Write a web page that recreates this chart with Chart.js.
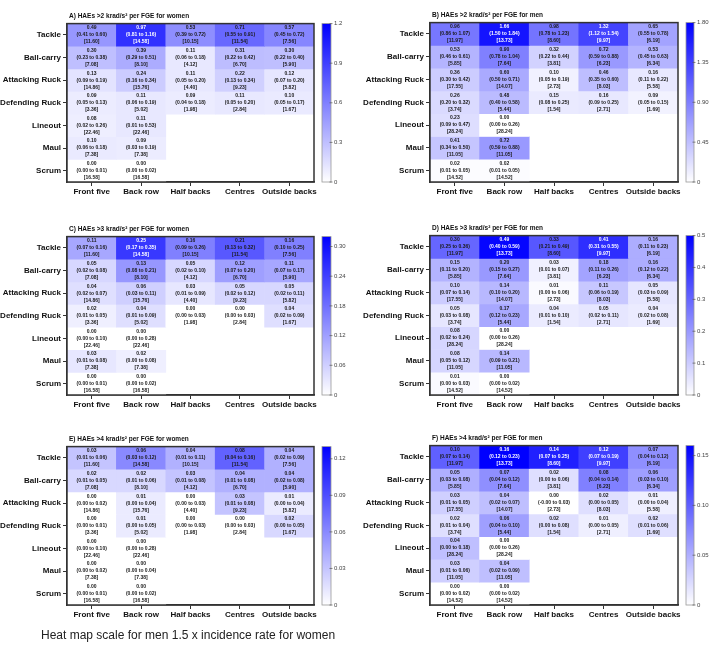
<!DOCTYPE html>
<html>
<head>
<meta charset="utf-8">
<script src="https://cdn.jsdelivr.net/npm/chart.js@4/dist/chart.umd.min.js"></script>
<style>
  body { margin: 0; background: #fff; width: 709px; height: 652px; position: relative; overflow: hidden; }
  .panel { position: absolute; }
  #caption { position: absolute; left: 41px; top: 628px; font: 12px "Liberation Sans", Arial, sans-serif; color: #222; white-space: nowrap; }
</style>
</head>
<body>
<div class="panel" style="left:0;top:0"><canvas id="pA" width="354" height="210"></canvas></div>
<div class="panel" style="left:354px;top:0"><canvas id="pB" width="355" height="210"></canvas></div>
<div class="panel" style="left:0;top:213px"><canvas id="pC" width="354" height="210"></canvas></div>
<div class="panel" style="left:354px;top:213px"><canvas id="pD" width="355" height="210"></canvas></div>
<div class="panel" style="left:0;top:423px"><canvas id="pE" width="354" height="210"></canvas></div>
<div class="panel" style="left:354px;top:423px"><canvas id="pF" width="355" height="210"></canvas></div>
<div id="caption">Heat map scale for men 1.5 x incidence rate for women</div>
<script>
//---------------------------------------------------------------------------
// categories
const rows = ['Tackle', 'Ball-carry', 'Attacking Ruck', 'Defending Ruck', 'Lineout', 'Maul', 'Scrum'];
const positions = ['Front five', 'Back row', 'Half backs', 'Centres', 'Outside backs'];

// FGE exposure, shared by the women panels and by the men panels
const womenFge = [[11.60, 14.58, 10.15, 11.54, 7.56], [7.08, 8.10, 4.12, 6.70, 5.90], [14.86, 15.76, 4.40, 9.23, 5.82],
  [3.36, 5.02, 1.98, 2.84, 1.67], [22.46, 22.46, null, null, null], [7.38, 7.38, null, null, null], [16.58, 16.58, null, null, null]];
const menFge = [[11.97, 13.73, 8.60, 9.97, 6.19], [5.85, 7.64, 3.81, 6.23, 6.34], [17.55, 14.07, 2.73, 8.03, 5.58],
  [3.74, 5.44, 1.54, 2.71, 1.69], [28.24, 28.24, null, null, null], [11.05, 11.05, null, null, null], [14.52, 14.52, null, null, null]];

// A) >2 krad/s2 women
const aRate = [[0.49, 0.97, 0.53, 0.71, 0.57], [0.30, 0.39, 0.11, 0.31, 0.30], [0.13, 0.24, 0.11, 0.22, 0.12], [0.09, 0.11, 0.09, 0.11, 0.10], [0.08, 0.11, null, null, null], [0.10, 0.09, null, null, null], [0.00, 0.00, null, null, null]];
const aLow = [[0.41, 0.81, 0.39, 0.55, 0.45], [0.23, 0.29, 0.06, 0.22, 0.22], [0.09, 0.16, 0.05, 0.13, 0.07], [0.05, 0.06, 0.04, 0.05, 0.05], [0.02, 0.01], [0.06, 0.03], [0.00, 0.00]];
const aHigh = [[0.60, 1.16, 0.72, 0.91, 0.72], [0.38, 0.51, 0.18, 0.42, 0.40], [0.19, 0.34, 0.20, 0.34, 0.20], [0.13, 0.19, 0.18, 0.20, 0.17], [0.26, 0.53], [0.18, 0.19], [0.01, 0.02]];
// B) >2 krad/s2 men
const bRate = [[0.96, 1.66, 0.98, 1.32, 0.65], [0.53, 0.90, 0.32, 0.72, 0.53], [0.36, 0.60, 0.10, 0.46, 0.16], [0.26, 0.48, 0.15, 0.16, 0.09], [0.23, 0.00, null, null, null], [0.41, 0.72, null, null, null], [0.02, 0.02, null, null, null]];
const bLow = [[0.86, 1.50, 0.78, 1.12, 0.55], [0.46, 0.78, 0.22, 0.59, 0.45], [0.30, 0.50, 0.05, 0.35, 0.11], [0.20, 0.40, 0.08, 0.09, 0.05], [0.09, 0.00], [0.34, 0.59], [0.01, 0.01]];
const bHigh = [[1.07, 1.84, 1.23, 1.54, 0.78], [0.61, 1.04, 0.44, 0.88, 0.63], [0.42, 0.71, 0.19, 0.60, 0.22], [0.32, 0.58, 0.25, 0.25, 0.15], [0.47, 0.26], [0.50, 0.88], [0.05, 0.05]];
// C) >3 krad/s2 women
const cRate = [[0.11, 0.25, 0.16, 0.21, 0.16], [0.05, 0.13, 0.05, 0.12, 0.11], [0.04, 0.06, 0.03, 0.05, 0.05], [0.02, 0.04, 0.00, 0.00, 0.04], [0.00, 0.00, null, null, null], [0.03, 0.02, null, null, null], [0.00, 0.00, null, null, null]];
const cLow = [[0.07, 0.17, 0.09, 0.13, 0.10], [0.02, 0.08, 0.02, 0.07, 0.07], [0.02, 0.03, 0.01, 0.02, 0.02], [0.01, 0.01, 0.00, 0.00, 0.02], [0.00, 0.00], [0.01, 0.00], [0.00, 0.00]];
const cHigh = [[0.16, 0.35, 0.26, 0.32, 0.25], [0.08, 0.21, 0.10, 0.20, 0.17], [0.07, 0.11, 0.09, 0.12, 0.11], [0.05, 0.09, 0.03, 0.03, 0.09], [0.10, 0.28], [0.08, 0.08], [0.01, 0.02]];
// D) >3 krad/s2 men
const dRate = [[0.30, 0.49, 0.33, 0.41, 0.16], [0.15, 0.20, 0.03, 0.18, 0.16], [0.10, 0.14, 0.01, 0.11, 0.05], [0.05, 0.17, 0.04, 0.05, 0.04], [0.08, 0.00, null, null, null], [0.08, 0.14, null, null, null], [0.01, 0.00, null, null, null]];
const dLow = [[0.25, 0.40, 0.21, 0.31, 0.11], [0.11, 0.15, 0.01, 0.11, 0.12], [0.07, 0.10, 0.00, 0.06, 0.03], [0.03, 0.12, 0.01, 0.02, 0.02], [0.02, 0.00], [0.05, 0.09], [0.00, 0.00]];
const dHigh = [[0.36, 0.59, 0.49, 0.55, 0.23], [0.20, 0.27, 0.07, 0.26, 0.22], [0.14, 0.20, 0.06, 0.19, 0.09], [0.08, 0.23, 0.10, 0.11, 0.08], [0.24, 0.26], [0.12, 0.21], [0.03, 0.02]];
// E) >4 krad/s2 women
const eRate = [[0.03, 0.06, 0.04, 0.08, 0.04], [0.02, 0.02, 0.03, 0.04, 0.04], [0.00, 0.01, 0.00, 0.03, 0.01], [0.00, 0.01, 0.00, 0.00, 0.02], [0.00, 0.00, null, null, null], [0.00, 0.00, null, null, null], [0.00, 0.00, null, null, null]];
const eLow = [[0.01, 0.03, 0.01, 0.04, 0.02], [0.01, 0.01, 0.01, 0.01, 0.02], [0.00, 0.00, 0.00, 0.01, 0.00], [0.00, 0.00, 0.00, 0.00, 0.00], [0.00, 0.00], [0.00, 0.00], [0.00, 0.00]];
const eHigh = [[0.06, 0.12, 0.11, 0.16, 0.09], [0.05, 0.06, 0.08, 0.08, 0.08], [0.02, 0.04, 0.03, 0.08, 0.04], [0.01, 0.05, 0.03, 0.03, 0.05], [0.10, 0.28], [0.02, 0.04], [0.01, 0.02]];
// F) >4 krad/s2 men
const fRate = [[0.10, 0.16, 0.14, 0.12, 0.07], [0.05, 0.07, 0.02, 0.08, 0.06], [0.03, 0.04, 0.00, 0.02, 0.01], [0.02, 0.06, 0.02, 0.01, 0.02], [0.04, 0.00, null, null, null], [0.03, 0.04, null, null, null], [0.00, 0.00, null, null, null]];
const fLow = [[0.07, 0.12, 0.07, 0.07, 0.04], [0.03, 0.04, 0.00, 0.04, 0.03], [0.01, 0.02, -0.001, 0.00, 0.00], [0.01, 0.04, 0.00, 0.00, 0.01], [0.00, 0.00], [0.01, 0.02], [0.00, 0.00]];
const fHigh = [[0.14, 0.23, 0.25, 0.19, 0.12], [0.08, 0.12, 0.06, 0.14, 0.10], [0.05, 0.07, 0.03, 0.05, 0.04], [0.04, 0.10, 0.08, 0.05, 0.06], [0.18, 0.26], [0.06, 0.09], [0.02, 0.02]];

// colour bar scales
const aMax = 1.2, aTicks = [0, 0.3, 0.6, 0.9, 1.2], aTickLabels = ['0', '0.3', '0.6', '0.9', '1.2'];
const bMax = 1.8, bTicks = [0, 0.45, 0.9, 1.35, 1.8], bTickLabels = ['0', '0.45', '0.90', '1.35', '1.80'];
const cMax = 0.32, cTicks = [0, 0.06, 0.12, 0.18, 0.24, 0.30], cTickLabels = ['0', '0.06', '0.12', '0.18', '0.24', '0.30'];
const dMax = 0.5, dTicks = [0, 0.1, 0.2, 0.3, 0.4, 0.5], dTickLabels = ['0', '0.1', '0.2', '0.3', '0.4', '0.5'];
const eMax = 0.13, eTicks = [0, 0.03, 0.06, 0.09, 0.12], eTickLabels = ['0', '0.03', '0.06', '0.09', '0.12'];
const fMax = 0.16, fTicks = [0, 0.05, 0.10, 0.15], fTickLabels = ['0', '0.05', '0.10', '0.15'];

const FONT = '"Liberation Sans", Arial, Helvetica, sans-serif';
Chart.defaults.font.family = FONT;

//---------------------------------------------------------------------------
function heatColor(v, max) {
    const t = Math.min(Math.max(v / max, 0), 1);
    const c = Math.round(255 * (1 - t));
    return 'rgb(' + c + ',' + c + ',255)';
}

function makePanel(id, title, rate, low, high, fge, maxV, cbTicks, cbLabels, left) {
    const yW = left ? 67 : 76;     // width of the row label axis
    const cbW = left ? 40 : 31;    // width of the colour bar column
    const barOff = 8, barW = left ? 9 : 8;

    // one dataset per row, each cell is a floating bar [row, row + 1]
    const datasets = rows.map((r, ri) => ({
        label: r,
        data: positions.map((p, ci) => rate[ri][ci] === null ? null : [ri, ri + 1]),
        backgroundColor: positions.map((p, ci) => rate[ri][ci] === null ? 'rgba(0,0,0,0)' : heatColor(rate[ri][ci], maxV)),
        borderWidth: 0,
        grouped: false,
        barPercentage: 1,
        categoryPercentage: 1
    }));

    const panelPlugin = {
        id: 'panel' + id,
        afterDatasetsDraw(chart) {
            const { ctx, scales: { x, y } } = chart;
            ctx.save();
            ctx.font = 'bold 5px ' + FONT;
            ctx.textAlign = 'center';
            ctx.textBaseline = 'middle';
            rate.forEach((row, ri) => row.forEach((v, ci) => {
                if (v === null) return;
                const cx = x.getPixelForValue(ci);
                const cy = y.getPixelForValue(ri + 0.5);
                ctx.fillStyle = v / maxV > 0.7 ? '#fff' : '#1a1a1a';
                ctx.fillText(v.toFixed(2), cx, cy - 7);
                ctx.fillText('(' + low[ri][ci].toFixed(2) + ' to ' + high[ri][ci].toFixed(2) + ')', cx, cy);
                ctx.fillText('[' + fge[ri][ci].toFixed(2) + ']', cx, cy + 7);
            }));
            ctx.restore();
        },
        afterDraw(chart) {
            const { ctx, chartArea: a } = chart;
            ctx.save();
            // frame round the plot
            ctx.strokeStyle = '#333';
            ctx.lineWidth = 1.5;
            ctx.strokeRect(a.left, a.top, a.right - a.left, a.bottom - a.top);
            // title
            ctx.fillStyle = '#111';
            ctx.font = 'bold 6.5px ' + FONT;
            ctx.textAlign = 'left';
            ctx.textBaseline = 'middle';
            ctx.fillText(title, a.left + 2, a.top - 7);
            // colour bar
            const cb = chart.scales.cb;
            const bx = cb.left + barOff;
            const top = cb.getPixelForValue(maxV), bot = cb.getPixelForValue(0);
            const g = ctx.createLinearGradient(0, bot, 0, top);
            g.addColorStop(0, '#ffffff');
            g.addColorStop(1, '#0000ff');
            ctx.fillStyle = g;
            ctx.fillRect(bx, top, barW, bot - top);
            ctx.strokeStyle = '#999';
            ctx.lineWidth = 0.8;
            ctx.strokeRect(bx, top, barW, bot - top);
            ctx.strokeStyle = '#555';
            ctx.lineWidth = 0.7;
            cbTicks.forEach(v => {
                const py = cb.getPixelForValue(v);
                ctx.beginPath();
                ctx.moveTo(bx + barW - 1.5, py);
                ctx.lineTo(bx + barW + 1.5, py);
                ctx.stroke();
            });
            ctx.restore();
        }
    };

    new Chart(document.getElementById(id), {
        type: 'bar',
        data: { labels: positions, datasets: datasets },
        options: {
            responsive: false,
            animation: false,
            devicePixelRatio: 1,
            layout: { padding: { top: 13, left: 0, right: 0, bottom: 0 } },
            plugins: { legend: { display: false }, tooltip: { enabled: false }, title: { display: false } },
            scales: {
                x: {
                    type: 'category',
                    offset: true,
                    afterFit: (s) => { s.height = 28; },
                    ticks: { font: { size: 8, weight: 'bold' }, color: '#111', padding: 1, maxRotation: 0, autoSkip: false },
                    grid: { offset: false, drawOnChartArea: false, tickLength: 4, color: '#333' },
                    border: { color: '#333', width: 1.5 }
                },
                y: {
                    type: 'linear',
                    min: 0,
                    max: 7,
                    reverse: true,
                    afterBuildTicks: (s) => { s.ticks = rows.map((r, i) => ({ value: i + 0.5 })); },
                    afterFit: (s) => { s.width = yW; },
                    ticks: { callback: (v, i) => rows[i], font: { size: 8, weight: 'bold' }, color: '#111', padding: 2, autoSkip: false },
                    grid: { drawOnChartArea: false, tickLength: 4, color: '#333' },
                    border: { color: '#333', width: 1.5 }
                },
                cb: {
                    type: 'linear',
                    axis: 'y',
                    position: 'right',
                    min: 0,
                    max: maxV,
                    afterBuildTicks: (s) => { s.ticks = cbTicks.map(v => ({ value: v })); },
                    afterFit: (s) => { s.width = cbW; },
                    ticks: { callback: (v, i) => cbLabels[i], font: { size: 6 }, color: '#444', padding: barOff + barW + 3, autoSkip: false },
                    grid: { display: false, drawTicks: false },
                    border: { display: false }
                }
            }
        },
        plugins: [panelPlugin]
    });
}

//---------------------------------------------------------------------------
makePanel('pA', 'A) HAEs >2 krad/s\u00b2 per FGE for women', aRate, aLow, aHigh, womenFge, aMax, aTicks, aTickLabels, true);
makePanel('pB', 'B) HAEs >2 krad/s\u00b2 per FGE for men', bRate, bLow, bHigh, menFge, bMax, bTicks, bTickLabels, false);
makePanel('pC', 'C) HAEs >3 krad/s\u00b2 per FGE for women', cRate, cLow, cHigh, womenFge, cMax, cTicks, cTickLabels, true);
makePanel('pD', 'D) HAEs >3 krad/s\u00b2 per FGE for men', dRate, dLow, dHigh, menFge, dMax, dTicks, dTickLabels, false);
makePanel('pE', 'E) HAEs >4 krad/s\u00b2 per FGE for women', eRate, eLow, eHigh, womenFge, eMax, eTicks, eTickLabels, true);
makePanel('pF', 'F) HAEs >4 krad/s\u00b2 per FGE for men', fRate, fLow, fHigh, menFge, fMax, fTicks, fTickLabels, false);
</script>
</body>
</html>
